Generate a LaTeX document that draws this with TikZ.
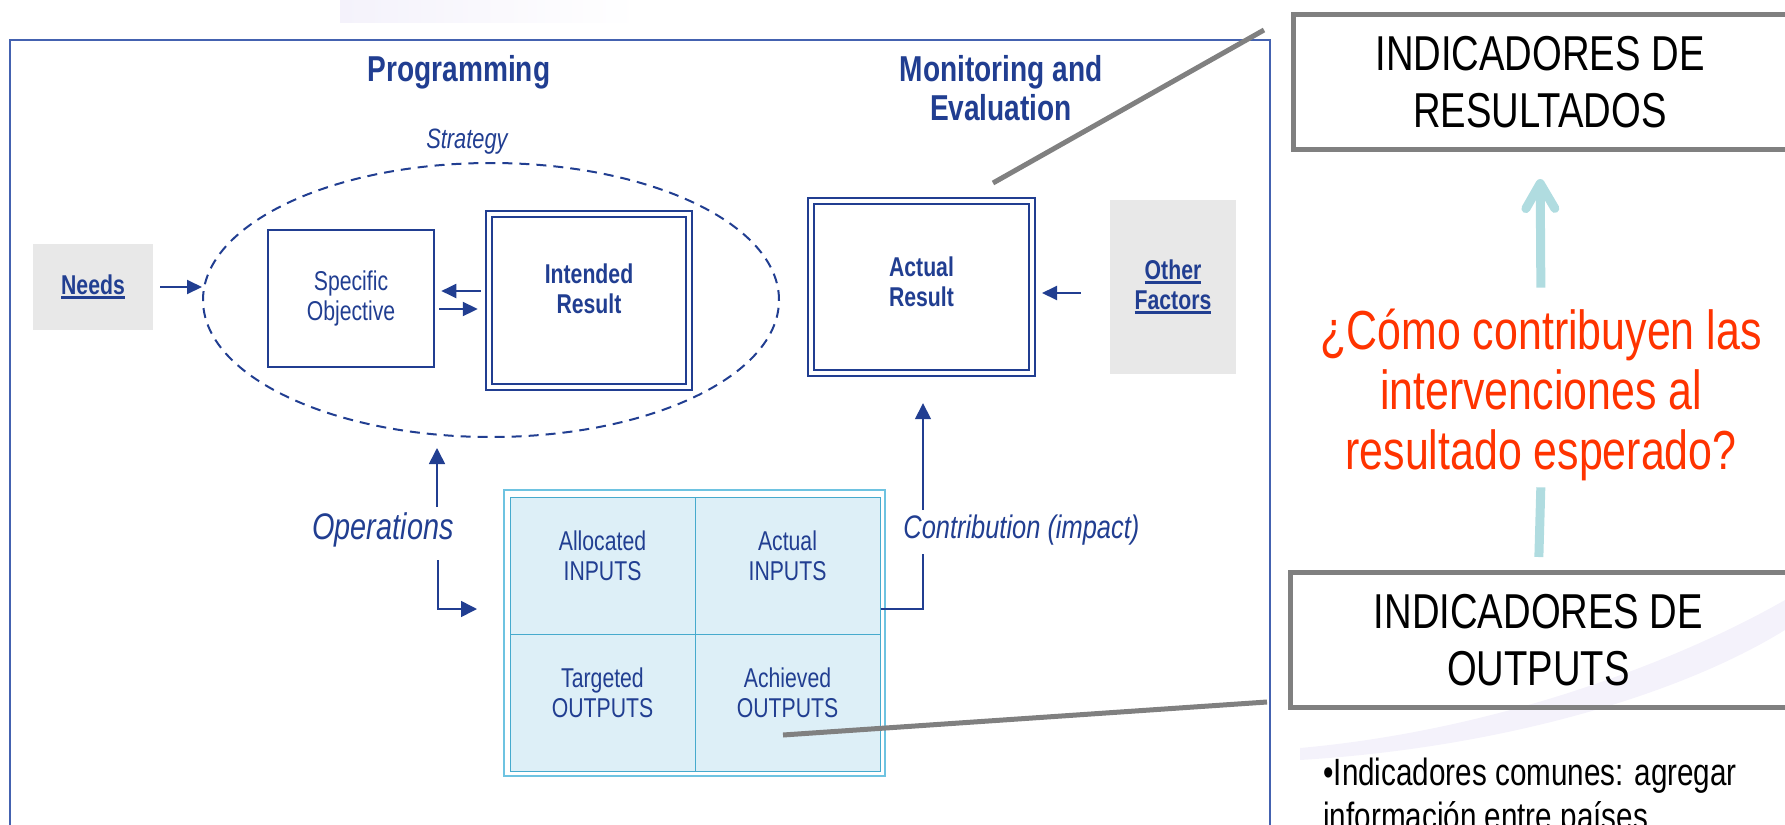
\documentclass[tikz,border=0pt]{standalone}
\usepackage{fontspec}
\setmainfont{Liberation Sans}[FakeStretch=0.78]
\usepackage{tikz}
\usetikzlibrary{shapes.geometric, arrows.meta, positioning}

\definecolor{dblue}{RGB}{33,62,145}
\definecolor{fblue}{RGB}{68,98,176}
\definecolor{boxgray}{RGB}{232,232,232}
\definecolor{gridfill}{RGB}{221,239,247}
\definecolor{gridline}{RGB}{70,170,205}
\definecolor{gridouter}{RGB}{110,195,225}
\definecolor{linkgray}{RGB}{128,128,128}
\definecolor{tealarrow}{RGB}{176,220,224}
\definecolor{qred}{RGB}{255,51,0}
\definecolor{swoosh}{RGB}{244,242,251}

\newcommand{\fsz}[2]{\fontsize{#1}{#2}\selectfont}
\newcommand{\ulthick}[1]{\leavevmode\setbox0\hbox{#1}\rlap{\vrule width\wd0 height -1pt depth 2.5pt}\box0}

\tikzset{
  flow/.style={dblue, line width=1pt, -{Triangle[length=7.5pt,width=7pt]}},
  bigflow/.style={dblue, line width=0.8pt, -{Triangle[length=8pt,width=8pt]}},
  plainbox/.style={draw=dblue, line width=1.3pt, inner sep=0pt},
  dblbox/.style={draw=dblue, line width=1.2pt, double=white, double distance=1.6pt, inner sep=0pt},
  graybox/.style={fill=boxgray, inner sep=0pt},
  boxtext/.style={text=dblue, align=center, font=\fsz{13.6pt}{15pt}},
  boldtext/.style={text=dblue, align=center, font=\fsz{13.6pt}{15pt}\bfseries},
  heading/.style={text=dblue, align=center, font=\fsz{18pt}{19.5pt}\bfseries},
  slanted/.style={text=dblue, font=\fsz{18.5pt}{20pt}\itshape},
  cell/.style={draw=gridline, line width=0.5pt, fill=gridfill, minimum width=92.5pt, minimum height=68.5pt, inner sep=0pt},
  indicator/.style={draw=linkgray, line width=2.5pt, inner sep=0pt, align=center, font=\fsz{24.5pt}{28.5pt}},
  pointer/.style={linkgray, line width=2.5pt},
  tealup/.style={tealarrow, line width=4.5pt, -{Straight Barb[length=12.5pt,width=14.5pt,round]}},
  tealbar/.style={tealarrow, line width=4.5pt},
}

\begin{document}
\begin{tikzpicture}[x=0.5pt, y=-0.5pt]
\useasboundingbox (0,0) rectangle (1785,825);
\clip (0,0) rectangle (1785,825);

% slide background
\fill[swoosh] (1300,748) .. controls (1500,730) and (1680,660) .. (1785,600) -- (1785,630) .. controls (1680,695) and (1500,748) .. (1300,760) -- cycle;
\shade[left color=swoosh, right color=white] (340,0) rectangle (640,22);

% frame of the pasted figure
\draw[fblue, line width=0.8pt] (10,825) -- (10,40) -- (1270,40) -- (1270,825);

\node[heading] (prog) at (459,72) {Programming};
\node[heading] (monitor) at (1001,88) {Monitoring and\\Evaluation};

% strategy
\node[draw=dblue, dash pattern=on 5pt off 3.5pt, line width=1pt, ellipse, minimum width=288pt, minimum height=137pt, inner sep=0pt] (strategy) at (491,300) {};
\node[text=dblue, font=\fsz{14pt}{15pt}\itshape] (stratlbl) at (467,142) {Strategy};

\node[graybox, minimum width=60pt, minimum height=43pt, boldtext] (needs) at (93,287) {\ulthick{Needs}};
\node[plainbox, minimum width=83pt, minimum height=68.5pt, boxtext] (spec) at (351,298.5) {Specific\\Objective};
\node[dblbox, minimum width=100pt, minimum height=86.5pt] (intended) at (589,300.5) {};
\node[boldtext] (intendedtxt) at ([yshift=6pt]intended.center) {Intended\\Result};

\node[dblbox, minimum width=110.5pt, minimum height=86pt] (actual) at (921.5,287) {};
\node[boldtext] (actualtxt) at ([yshift=2.5pt]actual.center) {Actual\\Result};
\node[graybox, minimum width=63pt, minimum height=87pt, boldtext] (other) at (1173,287) {\ulthick{Other}\\\ulthick{Factors}};

\draw[flow, shorten <=3.5pt] (needs.east) -- (strategy.west |- needs.east);
\draw[flow, shorten <=3.5pt, shorten >=3pt] ([yshift=4.75pt]intended.west) -- ([yshift=4.75pt]intended.west -| spec.east);
\draw[flow, shorten <=2pt, shorten >=5pt] ([yshift=-4.25pt]intended.west -| spec.east) -- ([yshift=-4.25pt]intended.west);
\draw[flow, shorten <=14.5pt, shorten >=4.4pt] ([yshift=-3pt]other.west) -- ([yshift=-3pt]other.west -| actual.east);

% inputs / outputs grid
\node[draw=gridouter, line width=1pt, minimum width=190.5pt, minimum height=143pt, inner sep=0pt] (grid) at (694.5,633) {};
\node[cell] (allocin) at (602.5,565.5) {};
\node[cell] (actin) at (787.5,565.5) {};
\node[cell] (targout) at (602.5,702.5) {};
\node[cell] (achout) at (787.5,702.5) {};
\node[boxtext] (allocintxt) at ([yshift=5pt]allocin.center) {Allocated\\INPUTS};
\node[boxtext] (actintxt) at ([yshift=5pt]actin.center) {Actual\\INPUTS};
\node[boxtext] (targouttxt) at ([yshift=5pt]targout.center) {Targeted\\OUTPUTS};
\node[boxtext] (achouttxt) at ([yshift=5pt]achout.center) {Achieved\\OUTPUTS};

% operations
\node[slanted] (ops) at (383,530) {Operations};
\coordinate (opsup) at (437,507);
\coordinate (opsdown) at (438,560);
\coordinate (midrow) at (0,609);
\draw[bigflow, shorten >=5pt] (opsup) -- (opsup |- strategy.south);
\draw[bigflow, shorten >=13pt] (opsdown) |- (grid.west |- midrow);

% contribution
\node[slanted, font=\fsz{16.3pt}{18pt}\itshape, anchor=west, inner sep=0pt] (contrib) at (903,530) {Contribution (impact)};
\coordinate (cbot) at (923,554);
\coordinate (ctop) at (923,510);
\draw[dblue, line width=0.8pt] (actin.east |- midrow) -| (cbot);
\draw[bigflow, shorten >=14.5pt] (ctop) -- (ctop |- actual.south);

% pointers to the indicator boxes
\coordinate (respoint) at (993,183);
\coordinate (respanel) at (1264,30);
\draw[pointer] (respoint) -- (respanel);
\coordinate (outpoint) at (783,735);
\coordinate (outpanel) at (1267,702);
\draw[pointer] (outpoint) -- (outpanel);

% right panel
\node[indicator, minimum width=247pt, minimum height=67.75pt] (resultados) at (1540,81.75) {INDICADORES DE\\RESULTADOS};
\node[indicator, minimum width=248.5pt, minimum height=67.5pt] (outputs) at (1538.5,640) {INDICADORES DE\\OUTPUTS};
\node[text=qred, align=center, font=\fsz{27.5pt}{30pt}, inner sep=0pt] (question) at (1541,395) {¿Cómo contribuyen las\\intervenciones al\\resultado esperado?};
\draw[tealup, shorten <=10.5pt, shorten >=13.5pt] (question.north) -- (resultados.south);
\draw[tealbar, shorten <=3pt, shorten >=6.5pt] (question.south) -- (outputs.north);

\node[anchor=west, align=left, inner sep=0pt, font=\fsz{19pt}{22pt}] (common) at (1323,798) {•Indicadores comunes: agregar\\información entre países};
\end{tikzpicture}
\end{document}
